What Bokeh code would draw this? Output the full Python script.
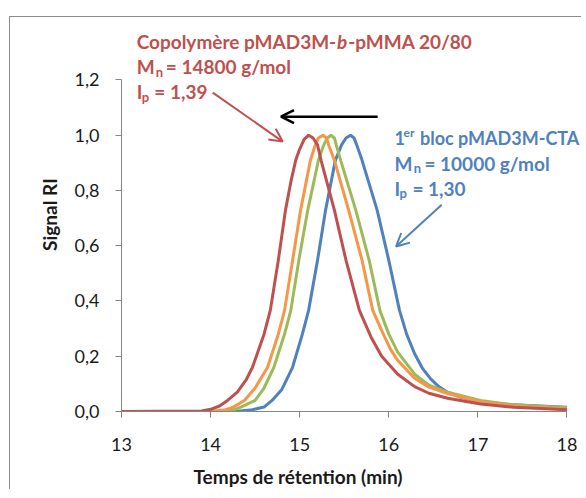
from bokeh.plotting import figure
from bokeh.models import Label, Arrow, OpenHead, FixedTicker, Range1d, Title
from bokeh.embed import file_html
from bokeh.resources import INLINE

# ---------------- data ----------------
t_red = [13.0, 13.9, 14.0, 14.1, 14.19, 14.3, 14.4, 14.47, 14.6, 14.67, 14.76, 14.84, 14.9, 14.955, 15.0, 15.05,
         15.1, 15.15, 15.2, 15.24, 15.39, 15.52, 15.67, 15.8, 15.92, 16.1, 16.29, 16.45, 16.66, 17.03, 17.4, 18.0]
v_red = [0.0, 0.002, 0.008, 0.02, 0.04, 0.07, 0.115, 0.16, 0.28, 0.366, 0.547, 0.728, 0.83, 0.909, 0.95, 0.985,
         1.0, 0.99, 0.965, 0.909, 0.728, 0.547, 0.366, 0.27, 0.2, 0.135, 0.09, 0.066, 0.048, 0.027, 0.015, 0.006]

t_orange = [13.0, 14.0, 14.15, 14.25, 14.38, 14.5, 14.64, 14.76, 14.83, 14.92, 15.01, 15.12, 15.17, 15.21,
            15.26, 15.3, 15.33, 15.39, 15.55, 15.7, 15.82, 15.92, 16.02, 16.1, 16.29, 16.45, 16.66, 17.03,
            17.4, 18.0]
v_orange = [0.0, 0.001, 0.005, 0.015, 0.04, 0.085, 0.16, 0.28, 0.366, 0.547, 0.728, 0.909, 0.96, 0.99,
            1.0, 0.99, 0.96, 0.909, 0.728, 0.547, 0.366, 0.293, 0.225, 0.185, 0.12, 0.088, 0.065, 0.035,
            0.02, 0.01]

t_green = [13.0, 14.1, 14.25, 14.34, 14.5, 14.6, 14.71, 14.83, 14.9, 14.99, 15.09, 15.21, 15.27, 15.31,
           15.35, 15.39, 15.41, 15.46, 15.63, 15.78, 15.9, 16.0, 16.1, 16.29, 16.45, 16.66, 17.03, 17.4, 18.0]
v_green = [0.0, 0.001, 0.005, 0.016, 0.04, 0.085, 0.16, 0.28, 0.366, 0.547, 0.728, 0.909, 0.965, 0.99,
           1.0, 0.99, 0.965, 0.909, 0.728, 0.547, 0.366, 0.28, 0.215, 0.135, 0.095, 0.07, 0.04, 0.024, 0.014]

t_blue = [13.0, 14.3, 14.45, 14.6, 14.69, 14.8, 14.92, 15.03, 15.1, 15.2, 15.29, 15.4, 15.47, 15.52,
          15.57, 15.61, 15.64, 15.7, 15.87, 16.0, 16.12, 16.2, 16.29, 16.38, 16.47, 16.56, 16.66, 16.8,
          17.03, 17.4, 18.0]
v_blue = [0.0, 0.001, 0.005, 0.016, 0.04, 0.08, 0.16, 0.28, 0.366, 0.547, 0.728, 0.909, 0.965, 0.99,
          1.0, 0.99, 0.965, 0.909, 0.728, 0.547, 0.366, 0.28, 0.209, 0.155, 0.118, 0.09, 0.07, 0.052,
          0.035, 0.024, 0.015]

x_ticks = [13, 14, 15, 16, 17, 18]
y_ticks = [0, 0.2, 0.4, 0.6, 0.8, 1.0, 1.2]
y_tick_labels = ["0,0", "0,2", "0,4", "0,6", "0,8", "1,0", "1,2"]

x_title = "Temps de rétention (min)"
y_title = "Signal RI"

RED = "#C0504D"
ORANGE = "#F79646"
GREEN = "#9BBB59"
BLUE = "#4F81BD"
AXIS = "#868686"
FONT = "Lato"

p = figure(width=572, height=473, x_range=Range1d(13, 18.174), y_range=Range1d(0, 1.426),
           output_backend="svg", toolbar_location=None,
           min_border_left=111, min_border_right=0, min_border_top=0, min_border_bottom=79)
p.stylesheets = [":host { margin-top: 16px; margin-left: 9px; "
                 "border-left: 1px solid #8c8c8c; border-top: 1px solid #8c8c8c; }"]
p.xgrid.visible = False
p.ygrid.visible = False
p.outline_line_color = None
p.background_fill_color = "white"
p.border_fill_color = "white"


def style_axis(ax):
    ax.axis_line_color = AXIS
    ax.major_tick_line_color = AXIS
    ax.minor_tick_line_color = None
    ax.major_tick_in = 0
    ax.major_tick_out = 6
    ax.major_label_text_font = FONT
    ax.major_label_text_font_size = "18px"
    ax.major_label_text_color = "#1a1a1a"
    ax.axis_label_text_font = FONT
    ax.axis_label_text_font_size = "19px"
    ax.axis_label_text_font_style = "bold"
    ax.axis_label_text_color = "#1a1a1a"


style_axis(p.xaxis[0])
style_axis(p.yaxis[0])
p.xaxis[0].bounds = (13, 18)
p.yaxis[0].bounds = (0, 1.2)
p.xaxis[0].ticker = FixedTicker(ticks=x_ticks)
p.yaxis[0].ticker = FixedTicker(ticks=y_ticks)
p.yaxis[0].major_label_overrides = {t: lab for t, lab in zip(y_ticks, y_tick_labels)}
p.yaxis[0].axis_label = y_title
p.xaxis[0].major_label_standoff = 20
p.yaxis[0].major_label_standoff = 16
p.yaxis[0].axis_label_standoff = 11

# small spacer between the x axis and its title
p.add_layout(Title(text=" ", text_font_size="1px", standoff=6), "below")
# x-axis title, placed (like the reference) left of the axis centre
p.add_layout(Title(text=x_title, align="left", offset=72, standoff=0,
                   text_font=FONT, text_font_size="19px", text_font_style="bold",
                   text_color="#1a1a1a"), "below")

p.line(t_blue, v_blue, line_color=BLUE, line_width=3)
p.line(t_green, v_green, line_color=GREEN, line_width=3)
p.line(t_orange, v_orange, line_color=ORANGE, line_width=3)
p.line(t_red, v_red, line_color=RED, line_width=3)

# arrows
p.add_layout(Arrow(end=OpenHead(size=13, line_color=RED, line_width=2), line_color=RED, line_width=2,
                   x_start=14.024, y_start=1.154, x_end=14.809, y_end=0.977))
p.add_layout(Arrow(end=OpenHead(size=13, line_color="black", line_width=2.5), line_color="black", line_width=2.5,
                   x_start=15.875, y_start=1.067, x_end=14.79, y_end=1.067))
p.add_layout(Arrow(end=OpenHead(size=13, line_color=BLUE, line_width=2), line_color=BLUE, line_width=2,
                   x_start=16.594, y_start=0.748, x_end=16.081, y_end=0.597))


def lab(x, y, text, color, size="19px", style="bold"):
    p.add_layout(Label(x=x, y=y, text=text, text_color=color, text_font=FONT, text_font_size=size,
                       text_font_style=style, text_baseline="middle", text_align="left"))


# red annotation
lab(13.17, 1.339, "Copolymère pMAD3M-", RED)
lab(15.42, 1.339, "b", RED, style="bold italic")
lab(15.545, 1.339, "-pMMA 20/80", RED)
lab(13.17, 1.248, "M", RED)
lab(13.385, 1.230, "n", RED, size="13px")
lab(13.497, 1.248, "= 14800 g/mol", RED)
lab(13.17, 1.158, "I", RED)
lab(13.227, 1.139, "p", RED, size="13px")
lab(13.368, 1.158, "= 1,39", RED)

# blue annotation
lab(16.064, 0.989, "1", BLUE, size="18px")
lab(16.165, 1.010, "er", BLUE, size="12px")
lab(16.35, 0.989, "bloc pMAD3M-CTA", BLUE, size="18px")
lab(16.064, 0.898, "M", BLUE)
lab(16.28, 0.880, "n", BLUE, size="13px")
lab(16.40, 0.898, "= 10000 g/mol", BLUE)
lab(16.064, 0.808, "I", BLUE)
lab(16.121, 0.790, "p", BLUE, size="13px")
lab(16.265, 0.808, "= 1,30", BLUE)

open("out.html", "w").write(file_html(p, INLINE))
